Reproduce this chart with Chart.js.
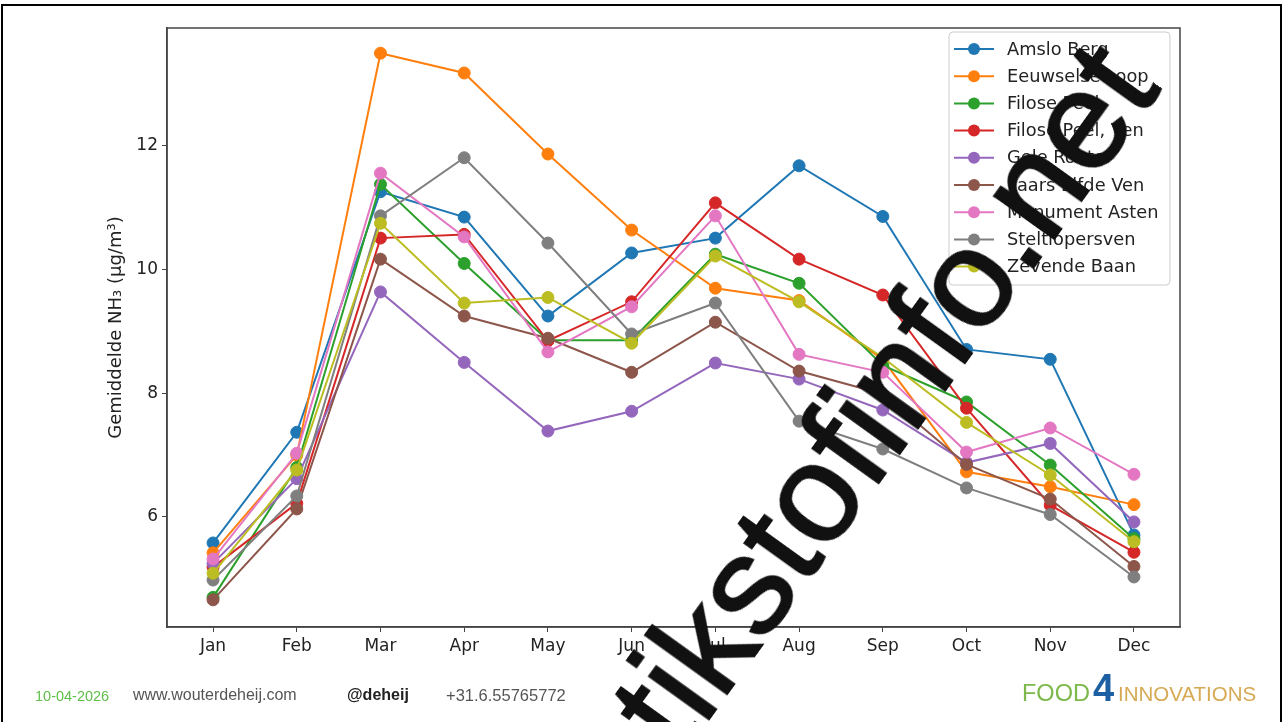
<!DOCTYPE html>
<html>
<head>
<meta charset="utf-8">
<script src="https://cdn.jsdelivr.net/npm/chart.js@4.4.0/dist/chart.umd.min.js"></script>
<style>
  body { margin: 0; background: #fff; width: 1284px; height: 722px; overflow: hidden; position: relative; font-family: "Liberation Sans", sans-serif; }
  #chart { position: absolute; left: 0; top: 0; }
  .frame { position: absolute; left: 1px; top: 4px; width: 1277px; height: 760px; border: 2px solid #000; }
  .foot { position: absolute; top: 686px; font-size: 16px; color: #555; white-space: nowrap; }
  .logo { position: absolute; left: 1022px; top: 674px; white-space: nowrap; font-size: 20.5px; line-height: 28px; }
  #wm { position: absolute; left: 862px; top: 424px; transform: translate(-50%, -50%) rotate(-54.3deg);
        font-size: 140px; color: #111; white-space: nowrap; font-family: "Liberation Sans", sans-serif;
        -webkit-text-stroke: 2px #111; }
</style>
</head>
<body>
<div class="frame"></div>
<canvas id="chart" width="1284" height="722"></canvas>

<div class="foot" style="left:35px;color:#5fbf4a;font-size:14.5px;top:688px">10-04-2026</div>
<div class="foot" style="left:133px">www.wouterdeheij.com</div>
<div class="foot" style="left:347px;color:#222;font-weight:bold">@deheij</div>
<div class="foot" style="left:446px;font-size:16.5px">+31.6.55765772</div>
<div class="logo"><span style="color:#7cb84a;font-size:23.5px">FOOD</span><span style="color:#1d5fa3;font-weight:bold;font-size:38px;margin:0 4px 0 3px">4</span><span style="color:#d6a954">INNOVATIONS</span></div>

<div id="wm">stikstofinfo.net</div>

<script>
// --- DATOS ---
const months = ['Jan', 'Feb', 'Mar', 'Apr', 'May', 'Jun', 'Jul', 'Aug', 'Sep', 'Oct', 'Nov', 'Dec'];
const names = ['Amslo Berg', 'Eeuwselse Loop', 'Filose Peel', 'Filose Peel, Ven', 'Gele Route',
               'Laars Elfde Ven', 'Monument Asten', 'Steltlopersven', 'Zevende Baan'];
const colors = ['#1f77b4', '#ff7f0e', '#2ca02c', '#d62728', '#9467bd', '#8c564b', '#e377c2', '#7f7f7f', '#bcbd22'];

const amsloBerg      = [5.58, 7.37, 11.26, 10.85, 9.25, 10.27, 10.51, 11.68, 10.86, 8.71, 8.55, 5.71];
const eeuwselseLoop  = [5.42, 7.00, 13.50, 13.18, 11.87, 10.64, 9.70, 9.50, 8.55, 6.73, 6.49, 6.20];
const filosePeel     = [4.70, 6.80, 11.38, 10.10, 8.86, 8.86, 10.25, 9.78, 8.45, 7.86, 6.84, 5.65];
const filosePeelVen  = [5.19, 6.22, 10.51, 10.57, 8.85, 9.48, 11.08, 10.17, 9.59, 7.76, 6.19, 5.43];
const geleRoute      = [5.25, 6.62, 9.64, 8.50, 7.39, 7.71, 8.49, 8.23, 7.73, 6.88, 7.19, 5.92];
const laarsElfdeVen  = [4.66, 6.13, 10.17, 9.25, 8.89, 8.34, 9.15, 8.36, 7.99, 6.85, 6.29, 5.20];
const monumentAsten  = [5.32, 7.03, 11.56, 10.53, 8.67, 9.40, 10.87, 8.63, 8.34, 7.05, 7.44, 6.69];
const steltlopersven = [4.98, 6.34, 10.87, 11.81, 10.43, 8.96, 9.46, 7.55, 7.10, 6.47, 6.04, 5.03];
const zevendeBaan    = [5.09, 6.76, 10.75, 9.46, 9.55, 8.81, 10.22, 9.48, 8.58, 7.53, 6.68, 5.60];

const seriesValues = [amsloBerg, eeuwselseLoop, filosePeel, filosePeelVen, geleRoute,
                      laarsElfdeVen, monumentAsten, steltlopersven, zevendeBaan];
const yTicks = [6, 8, 10, 12];

const tickFont = { family: 'DejaVu Sans', size: 17 };

// marco completo del área (estilo matplotlib)
const frameBox = {
    id: 'frameBox',
    beforeDatasetsDraw(chart) {
        const { ctx, chartArea: a } = chart;
        ctx.save();
        ctx.strokeStyle = '#444';
        ctx.lineWidth = 1.5;
        ctx.strokeRect(a.left, a.top, a.right - a.left, a.bottom - a.top);
        ctx.restore();
    }
};

// leyenda dentro del gráfico, arriba a la derecha
const legendBox = {
    id: 'legendBox',
    afterDatasetsDraw(chart) {
        const { ctx, chartArea: a } = chart;
        const w = 221, h = 253, rowH = 27.2;
        const x0 = a.right - 10 - w, y0 = a.top + 4;
        ctx.save();
        ctx.beginPath();
        ctx.roundRect(x0, y0, w, h, 4);
        ctx.fillStyle = 'rgba(255,255,255,0.85)';
        ctx.fill();
        ctx.strokeStyle = '#cccccc';
        ctx.lineWidth = 1;
        ctx.stroke();
        ctx.font = '17.8px "DejaVu Sans"';
        ctx.textBaseline = 'middle';
        chart.data.datasets.forEach((ds, i) => {
            const y = y0 + 17 + i * rowH;
            ctx.strokeStyle = ds.borderColor;
            ctx.lineWidth = 2;
            ctx.beginPath();
            ctx.moveTo(x0 + 5, y);
            ctx.lineTo(x0 + 45, y);
            ctx.stroke();
            ctx.fillStyle = ds.borderColor;
            ctx.beginPath();
            ctx.arc(x0 + 25, y, 6, 0, Math.PI * 2);
            ctx.fill();
            ctx.fillStyle = '#222';
            ctx.fillText(ds.label, x0 + 58, y + 1);
        });
        ctx.restore();
    }
};

new Chart(document.getElementById('chart'), {
    type: 'line',
    data: {
        datasets: names.map((name, i) => ({
            label: name,
            data: seriesValues[i].map((v, j) => ({ x: j, y: v })),
            borderColor: colors[i],
            backgroundColor: colors[i],
            borderWidth: 2,
            pointRadius: 6,
            pointHoverRadius: 6,
            pointBorderWidth: 1,
            tension: 0,
            order: names.length - i
        }))
    },
    options: {
        responsive: false,
        animation: false,
        devicePixelRatio: 1,
        layout: { padding: { left: 87, right: 104, top: 28, bottom: 55 } },
        plugins: { legend: { display: false }, tooltip: { enabled: false } },
        scales: {
            x: {
                type: 'linear',
                min: -0.55,
                max: 11.55,
                afterBuildTicks: s => { s.ticks = months.map((m, i) => ({ value: i })); },
                afterFit: s => { s.height = 40; },
                ticks: { callback: v => months[v], font: tickFont, color: '#222', padding: 4, autoSkip: false, maxRotation: 0 },
                grid: { drawOnChartArea: false, tickLength: 5, color: '#444' },
                border: { color: '#444', width: 1.5 }
            },
            y: {
                min: 4.221,
                max: 13.908,
                afterBuildTicks: s => { s.ticks = yTicks.map(v => ({ value: v })); },
                afterFit: s => { s.width = 80; },
                ticks: { font: tickFont, color: '#222', padding: 4 },
                grid: { drawOnChartArea: false, tickLength: 5, color: '#444' },
                border: { color: '#444', width: 1.5 },
                title: { display: true, text: 'Gemiddelde NH₃ (µg/m³)', font: { family: 'DejaVu Sans', size: 18 }, color: '#222', padding: { top: 19, bottom: 0 } }
            }
        }
    },
    plugins: [frameBox, legendBox]
});
</script>
</body>
</html>
